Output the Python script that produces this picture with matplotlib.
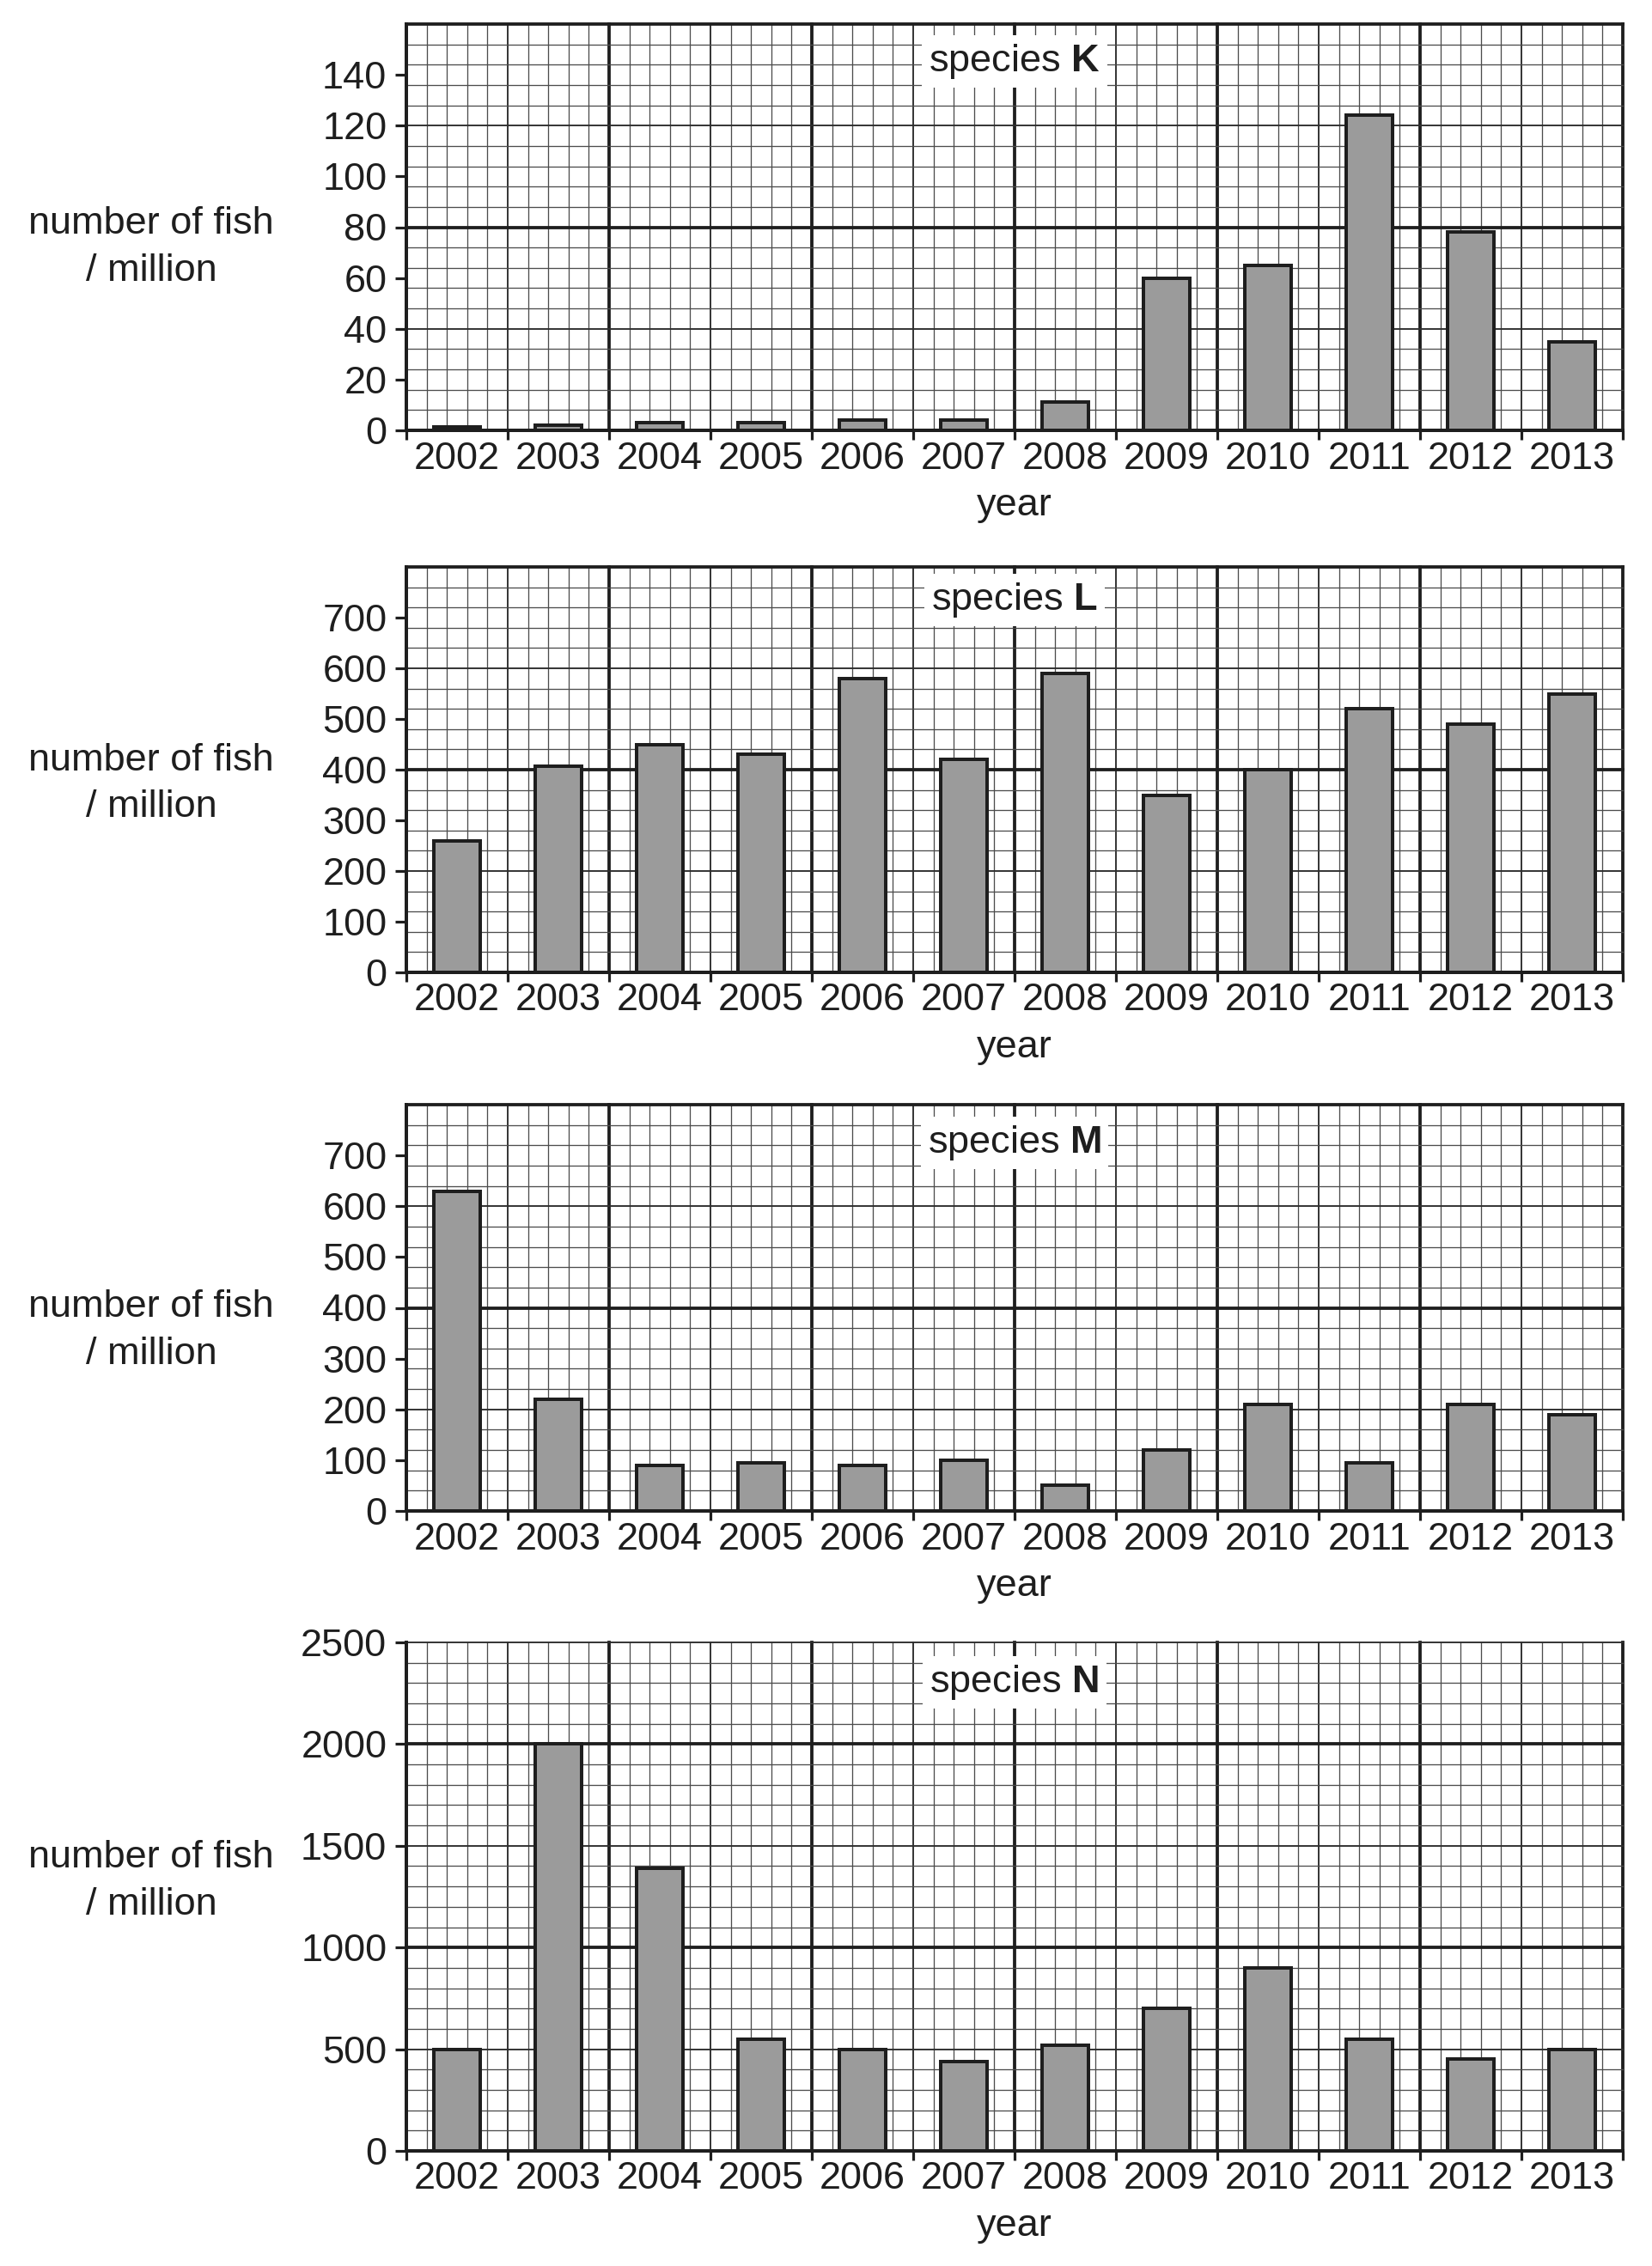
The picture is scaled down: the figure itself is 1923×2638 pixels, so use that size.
import matplotlib.pyplot as plt
import numpy as np

plt.rcParams['font.family'] = ['Liberation Sans', 'DejaVu Sans']
plt.rcParams['mathtext.fontset'] = 'custom'
plt.rcParams['mathtext.rm'] = 'Liberation Sans'
plt.rcParams['mathtext.bf'] = 'Liberation Sans:bold'

# data (million fish)
years = [2002, 2003, 2004, 2005, 2006, 2007, 2008, 2009, 2010, 2011, 2012, 2013]
species = ['K', 'L', 'M', 'N']
fish_k = [1.5, 2, 3, 3, 4, 4, 11, 60, 65, 124, 78, 35]
fish_l = [260, 407, 450, 430, 580, 420, 590, 350, 400, 520, 490, 550]
fish_m = [630, 220, 90, 95, 90, 100, 50, 120, 210, 95, 210, 190]
fish_n = [500, 2000, 1390, 550, 500, 440, 520, 700, 900, 550, 450, 500]
all_fish = [fish_k, fish_l, fish_m, fish_n]

y_top = [160, 800, 800, 2500]
y_cell = [8, 40, 40, 100]
y_tick_step = [20, 100, 100, 500]
y_tick_max = [140, 700, 700, 2500]

# layout (pixels)
W, H = 1923, 2638
left, right = 473, 1889
panel_px = [(28, 501), (660, 1132), (1286, 1759), (1912, 2504)]
label_base = [(272, 327), (897, 951), (1533, 1588), (2174, 2229)]
title_off = [55, 50, 56, 58]

ink = '#1e1e1e'
fs = 32.5


def pt(p):
    return p * 72 / 100


fig = plt.figure(figsize=(W / 100, H / 100), dpi=100)

for i in range(4):
    top, bot = panel_px[i]
    hpx = bot - top
    ax = fig.add_axes([left / W, 1 - bot / H, (right - left) / W, hpx / H])
    ax.set_xlim(-0.5, len(years) - 0.5)
    ax.set_ylim(0, y_top[i])

    # graph paper
    for k in range(len(years) * 5 + 1):
        x = -0.5 + k * 0.2
        if k % 10 == 0:
            lw, c = pt(3.8), ink
        elif k % 5 == 0:
            lw, c = pt(1.9), '#2e2e2e'
        else:
            lw, c = pt(1.3), '#4c4c4c'
        ax.axvline(x, color=c, lw=lw, zorder=1, clip_on=False)
    nrow = int(round(y_top[i] / y_cell[i]))
    for j in range(nrow + 1):
        y = j * y_cell[i]
        if j % 10 == 0:
            lw, c = pt(3.8), ink
        elif j % 5 == 0:
            lw, c = pt(1.9), '#2e2e2e'
        else:
            lw, c = pt(1.3), '#4c4c4c'
        ax.axhline(y, color=c, lw=lw, zorder=1, clip_on=False)

    ax.bar(range(len(years)), all_fish[i], width=0.45, color='#9b9b9b',
           edgecolor=ink, linewidth=pt(4), zorder=3)

    for s in ['top', 'right']:
        ax.spines[s].set_visible(False)
    for s in ['left', 'bottom']:
        ax.spines[s].set_linewidth(pt(4))
        ax.spines[s].set_color(ink)
        ax.spines[s].set_zorder(4)

    ax.set_xticks(np.arange(-0.5, len(years), 1.0))
    ax.set_xticklabels([])
    ax.set_xticks(range(len(years)), minor=True)
    ax.set_xticklabels([str(y) for y in years], minor=True)
    ax.tick_params(axis='x', which='major', direction='out', length=pt(11),
                   width=pt(3.2), color=ink)
    ax.tick_params(axis='x', which='minor', length=0, pad=9,
                   labelsize=fs, labelcolor=ink)

    ax.set_yticks(np.arange(0, y_tick_max[i] + 1, y_tick_step[i]))
    ax.tick_params(axis='y', direction='out', length=pt(13), width=pt(3.2),
                   color=ink, pad=7, labelsize=fs, labelcolor=ink)

    ax.text(0.5, 1 - title_off[i] / hpx, r'species $\mathbf{' + species[i] + '}$',
            transform=ax.transAxes, ha='center', va='baseline', fontsize=fs,
            color=ink, zorder=6,
            bbox=dict(boxstyle='square,pad=0.18', fc='white', ec='none'))

    ax.text(0.5, -99 / hpx, 'year', transform=ax.transAxes, ha='center',
            va='baseline', fontsize=fs, color=ink)

    b1, b2 = label_base[i]
    fig.text(176 / W, 1 - b1 / H, 'number of fish', ha='center',
             va='baseline', fontsize=fs, color=ink)
    fig.text(176 / W, 1 - b2 / H, '/ million', ha='center',
             va='baseline', fontsize=fs, color=ink)

fig.savefig('out.png', dpi=100, facecolor='white')
